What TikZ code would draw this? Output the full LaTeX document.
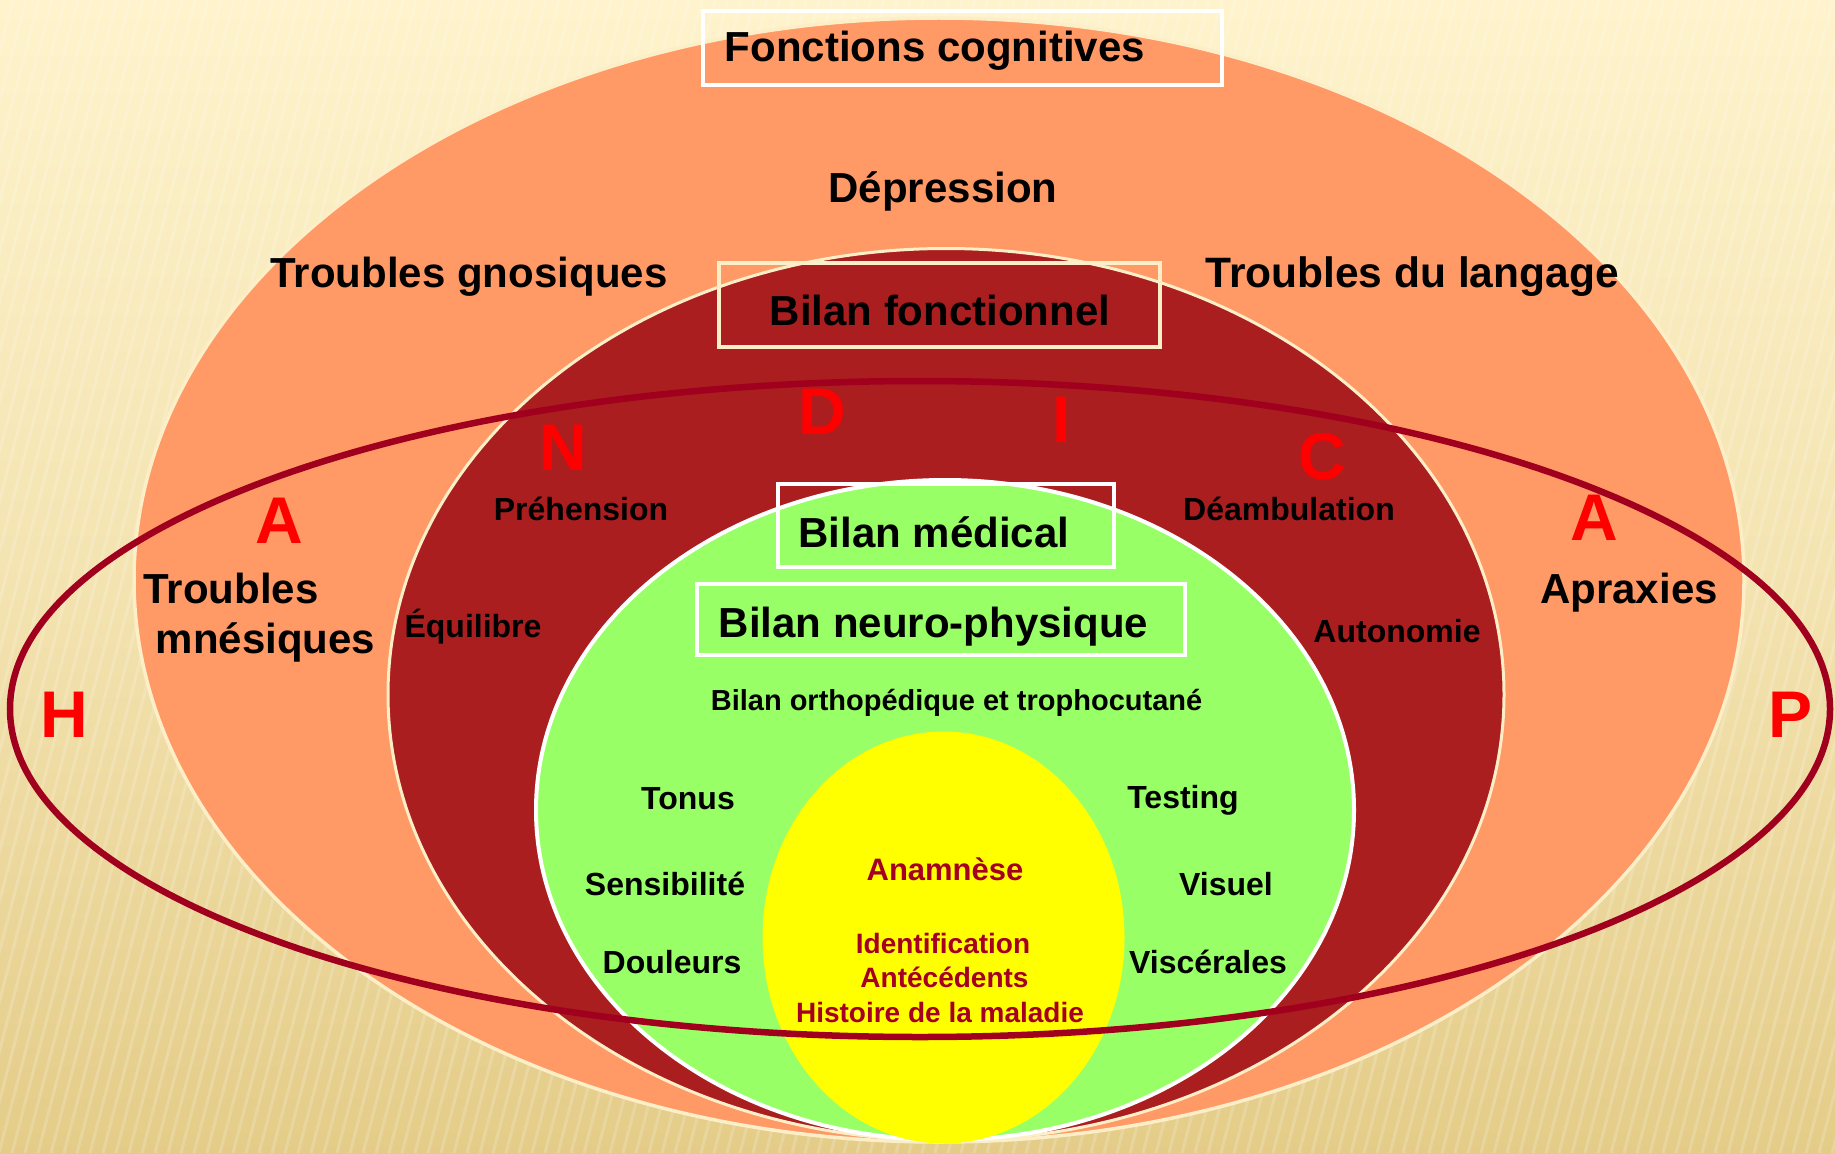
\documentclass[tikz,border=0pt]{standalone}
\usepackage{fontspec}
\setmainfont{Liberation Sans}
\definecolor{salmon}{HTML}{FF9966}
\definecolor{brick}{HTML}{AA1E1F}
\definecolor{lgreen}{HTML}{99FF66}
\definecolor{pureyellow}{HTML}{FFFF00}
\definecolor{ringred}{HTML}{A0001E}
\definecolor{cream}{HTML}{FCEFC8}
\definecolor{bgtop}{HTML}{FEF3CC}
\definecolor{bgbot}{HTML}{E4CC88}
\definecolor{letterred}{HTML}{FF0000}
\definecolor{anam}{HTML}{A50021}
\tikzset{
  big/.style={font=\bfseries\fontsize{42}{50}\selectfont, anchor=base, inner sep=0pt},
  mid/.style={font=\bfseries\fontsize{32}{38}\selectfont, anchor=base, inner sep=0pt},
  small/.style={font=\bfseries\fontsize{32}{38}\selectfont, anchor=base, inner sep=0pt},
  letter/.style={font=\bfseries\fontsize{66}{70}\selectfont, anchor=base, inner sep=0pt, text=letterred},
  anamtxt/.style={font=\bfseries\fontsize{28}{34}\selectfont, anchor=base, inner sep=0pt, text=anam},
  whiteframe/.style={draw=white, line width=4.5pt},
  creamframe/.style={draw=cream, line width=4pt},
}
\begin{document}
\begin{tikzpicture}[x=1pt, y=-1pt]
\useasboundingbox (0,0) rectangle (1835,1153);
% background
\shade[top color=bgtop, bottom color=bgbot, middle color=bgtop!60!bgbot] (0,0) rectangle (1835,1153);
\begin{scope}
\clip (0,0) rectangle (1835,1153);
\foreach \i in {0,...,170} {
  \draw[white, opacity=0.18, line width=3pt] ({\i*13-300},1153) -- ({\i*13},0);
}
\end{scope}
% nested shapes
\path[fill=salmon, draw=cream, line width=3.5pt] (939,580) ellipse [x radius=805, y radius=562];
\path[fill=brick, draw=cream, line width=3pt] (946,694.5) ellipse [x radius=558, y radius=446];
\path[fill=lgreen, draw=white, line width=4pt] (945,810) ellipse [x radius=409, y radius=330];
\path[fill=pureyellow] (943.5,937.5) ellipse [x radius=181, y radius=206];
% ring
\draw[ringred, line width=6.5pt] (920,709) ellipse [x radius=910, y radius=328];
% frames
\draw[whiteframe] (703,11) rectangle (1222,85);
\draw[creamframe] (719,263) rectangle (1160,347);
\draw[whiteframe] (778,484) rectangle (1114,567);
\draw[whiteframe] (697,584) rectangle (1185,655);
% outer texts
\node[big] (fc) at (935,62) {Fonctions cognitives};
\node[big] (dep) at (943,202) {Dépression};
\node[big] (tg) at (469,287) {Troubles gnosiques};
\node[big, font=\bfseries\fontsize{42.5}{50}\selectfont] (tl) at (1412,287) {Troubles du langage};
\node[big] (tm1) at (231,603) {Troubles};
\node[big] (tm2) at (265.5,653) {mnésiques};
\node[big] (apr) at (1629,603) {Apraxies};
% functional
\node[big] (bf) at (940,325) {Bilan fonctionnel};
\node[mid] (pre) at (581,520) {Préhension};
\node[mid] (dea) at (1289,520) {Déambulation};
\node[mid] (equ) at (473,637) {Équilibre};
\node[mid] (aut) at (1397,642) {Autonomie};
% medical
\node[big] (bm) at (934,547) {Bilan médical};
\node[big] (bnp) at (933.5,637) {Bilan neuro-physique};
\node[small, font=\bfseries\fontsize{29}{34}\selectfont] (bot) at (956.5,710) {Bilan orthopédique et trophocutané};
\node[small] (ton) at (688,809) {Tonus};
\node[small] (sen) at (665,895) {Sensibilité};
\node[small] (dou) at (672,973) {Douleurs};
\node[small] (tes) at (1183,808) {Testing};
\node[small] (vis) at (1226,895) {Visuel};
\node[small] (visc) at (1208,973) {Viscérales};
% anamnese
\node[anamtxt, font=\bfseries\fontsize{31}{36}\selectfont] (ana) at (945,880) {Anamnèse};
\node[anamtxt] (ide) at (943,953) {Identification};
\node[anamtxt] (ant) at (944.5,987) {Antécédents};
\node[anamtxt] (his) at (940,1022) {Histoire de la maladie};
% red letters
\node[letter] (lh) at (64,737) {H};
\node[letter] (la1) at (279,543) {A};
\node[letter] (ln) at (563,470) {N};
\node[letter] (ld) at (822,434) {D};
\node[letter] (li) at (1062,442) {I};
\node[letter] (lc) at (1322,479) {C};
\node[letter] (la2) at (1594,540) {A};
\node[letter] (lp) at (1790,737) {P};
\end{tikzpicture}
\end{document}
